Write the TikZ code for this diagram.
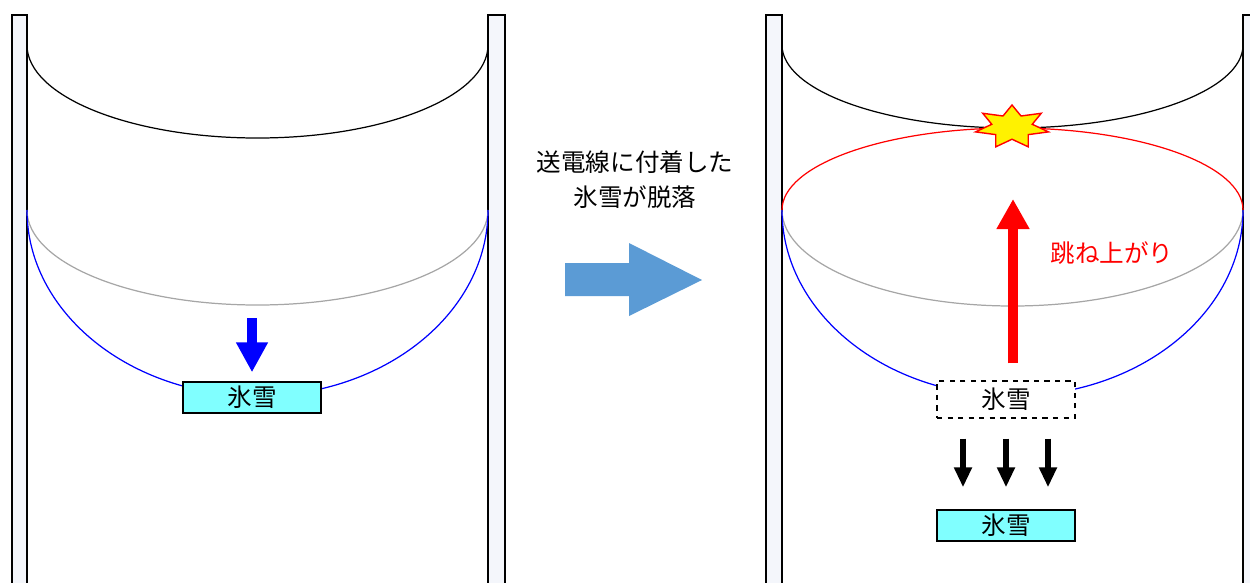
\documentclass[tikz,border=0pt]{standalone}
\usepackage{fontspec}
\newfontfamily\jp{Noto Sans CJK JP}
\usetikzlibrary{arrows.meta,shapes.geometric}
\definecolor{icecyan}{HTML}{80FFFF}
\definecolor{polefill}{HTML}{F4F6FB}
\definecolor{bigblue}{HTML}{5B9BD5}
\definecolor{wiregray}{HTML}{A6A6A6}
\begin{document}
\begin{tikzpicture}[x=0.02cm,y=-0.02cm,
    pole/.style={draw,fill=polefill,line width=0.8pt},
    wire/.style={line width=0.7pt},
    jptext/.style={font=\jp\fontsize{14pt}{20pt}\selectfont},
    ice/.style={jptext,draw,line width=0.8pt,minimum width=2.76cm,minimum height=0.62cm,inner sep=0pt},
    droparrow/.style={line width=0.12cm,-{Triangle[length=0.4cm,width=0.34cm]}}]
  \useasboundingbox (0,0) rectangle (1250,582);

  % poles
  \draw[pole] (12,15) rectangle (27,600);
  \draw[pole] (488,15) rectangle (505,600);
  \draw[pole] (766,15) rectangle (782,600);
  \draw[pole] (1243,15) rectangle (1260,600);

  \coordinate (topL)  at (27,45);
  \coordinate (midL)  at (27,210);
  \coordinate (topR)  at (782,45);
  \coordinate (midR)  at (782,210);

  % wires, before
  \draw[wire] (topL) arc[start angle=180,end angle=0,x radius=230.5,y radius=93];
  \draw[wire,wiregray] (midL) arc[start angle=180,end angle=0,x radius=230.5,y radius=95];
  \draw[wire,blue] (midL) arc[start angle=180,end angle=0,x radius=230.5,y radius=186];

  % wires, after
  \draw[wire] (topR) arc[start angle=180,end angle=0,x radius=230.5,y radius=83];
  \draw[wire,wiregray] (midR) arc[start angle=180,end angle=0,x radius=230.5,y radius=96];
  \draw[wire,blue] (midR) arc[start angle=180,end angle=0,x radius=230.5,y radius=186];
  \draw[wire,red] (midR) arc[start angle=180,end angle=360,x radius=230.5,y radius=82];

  \begin{scope}[shift={(1012,127)},xscale=1.7]
    \node[star,star points=7,star point ratio=1.8,minimum size=0.88cm,inner sep=0pt,
          draw=red,fill=yellow,line width=0.8pt,transform shape] (boom) at (0,0) {};
  \end{scope}

  \node[ice,fill=icecyan] (iceA) at (252,397.5) {氷雪};
  \node[ice,fill=white,dashed,minimum height=0.74cm] (iceB) at (1006,399.5) {氷雪};
  \node[ice,fill=icecyan] (iceC) at (1006,525.5) {氷雪};

  \node[jptext,align=center] (caption) at (635,180) {送電線に付着した\\氷雪が脱落};
  \node[jptext,text=red] (jumpLbl) at (1112,253) {跳ね上がり};

  \fill[bigblue] (565,263) -- (629,263) -- (629,243) -- (702,280) -- (629,316)
    -- (629,296) -- (565,296) -- cycle;

  \coordinate (dropTop) at (252,318);
  \draw[blue,line width=0.2cm,-{Triangle[length=0.6cm,width=0.6cm]},shorten >=0.18cm]
    (dropTop) -- (iceA.north);

  \coordinate (jumpTop) at (1013,199);
  \draw[red,line width=0.19cm,-{Triangle[length=0.6cm,width=0.62cm]},shorten <=0.34cm]
    (iceB.north -| jumpTop) -- (jumpTop);

  \foreach \dx in {-43,0,42}
    \draw[droparrow,shorten <=0.4cm,shorten >=0.44cm]
      ([xshift=\dx*0.02cm]iceB.south) -- ([xshift=\dx*0.02cm]iceC.north);

\end{tikzpicture}
\end{document}
